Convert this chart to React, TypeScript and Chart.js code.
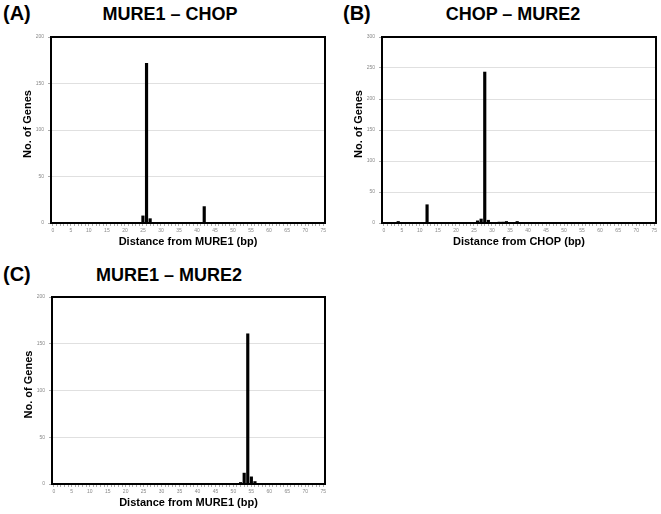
import React, { useEffect, useRef } from "react";
import { Chart, registerables } from "chart.js";

Chart.register(...registerables);

const categories = [
  0, 1, 2, 3, 4, 5, 6, 7, 8, 9, 10, 11, 12, 13, 14, 15, 16, 17, 18, 19,
  20, 21, 22, 23, 24, 25, 26, 27, 28, 29, 30, 31, 32, 33, 34, 35, 36, 37, 38, 39,
  40, 41, 42, 43, 44, 45, 46, 47, 48, 49, 50, 51, 52, 53, 54, 55, 56, 57, 58, 59,
  60, 61, 62, 63, 64, 65, 66, 67, 68, 69, 70, 71, 72, 73, 74, 75,
];
const xTickLabels = [0, 5, 10, 15, 20, 25, 30, 35, 40, 45, 50, 55, 60, 65, 70, 75];

// Panel A: MURE1 – CHOP
const aDistances = [20, 25, 26, 27, 29, 41, 42, 44];
const aCounts = [1, 8, 172, 5, 1, 1, 18, 1];
const aYTicks = [0, 50, 100, 150, 200];

// Panel B: CHOP – MURE2
const bDistances = [4, 12, 17, 19, 20, 21, 26, 27, 28, 29, 32, 33, 34, 37, 38, 40, 61];
const bCounts = [3, 30, 1, 1, 1, 1, 4, 7, 244, 5, 2, 2, 3, 3, 1, 1, 1];
const bYTicks = [0, 50, 100, 150, 200, 250, 300];

// Panel C: MURE1 – MURE2
const cDistances = [43, 45, 48, 49, 52, 53, 54, 55, 56, 57, 60, 61];
const cCounts = [1, 1, 1, 1, 2, 12, 161, 8, 3, 1, 1, 1];
const cYTicks = [0, 50, 100, 150, 200];

const yTitle = "No. of Genes";

const FONT = "'Liberation Sans', Arial, Helvetica, sans-serif";

const boxPlugin = {
  id: "boxBorder",
  afterDraw(chart: any) {
    const { ctx, chartArea } = chart;
    ctx.save();
    ctx.strokeStyle = "#000";
    ctx.lineWidth = 2;
    ctx.strokeRect(
      chartArea.left,
      chartArea.top,
      chartArea.right - chartArea.left,
      chartArea.bottom - chartArea.top
    );
    // y-axis title, slightly above the plot's centre as in the reference
    const y = chart.scales.y;
    ctx.translate(y.left + 18, (chartArea.top + chartArea.bottom) / 2 - 6);
    ctx.rotate(-Math.PI / 2);
    ctx.fillStyle = "#000";
    ctx.font = `bold 11px ${FONT}`;
    ctx.textAlign = "center";
    ctx.textBaseline = "middle";
    ctx.fillText(yTitle, 0, 0);
    ctx.restore();
  },
};

function buildTable(dist: number[], counts: number[]) {
  return categories.map((c) => {
    const i = dist.indexOf(c);
    return i >= 0 ? counts[i] : 0;
  });
}

type PanelProps = {
  left: number;
  top: number;
  width: number;
  height: number;
  dist: number[];
  counts: number[];
  yTicks: number[];
  xTitle: string;
};

function Panel(p: PanelProps) {
  const ref = useRef<HTMLCanvasElement>(null);
  useEffect(() => {
    const ctx = ref.current!;
    const yMax = p.yTicks[p.yTicks.length - 1];
    const chart = new Chart(ctx, {
      type: "bar",
      data: {
        labels: categories.map(String),
        datasets: [
          {
            data: buildTable(p.dist, p.counts),
            backgroundColor: "#000",
            borderWidth: 0,
            barPercentage: 0.88,
            categoryPercentage: 1,
          },
        ],
      },
      options: {
        responsive: false,
        animation: false,
        events: [],
        layout: { padding: { top: 5, right: 5, left: 0, bottom: 0 } },
        plugins: { legend: { display: false }, tooltip: { enabled: false } },
        scales: {
          x: {
            type: "category",
            offset: true,
            afterFit: (s: any) => {
              s.height = 30;
            },
            grid: {
              display: true,
              drawOnChartArea: false,
              drawTicks: true,
              tickLength: 3,
              offset: false,
              color: "#aaa",
              tickColor: "#aaa",
            },
            border: { display: false },
            ticks: {
              autoSkip: false,
              maxRotation: 0,
              minRotation: 0,
              padding: 2,
              color: "#888",
              font: { family: FONT, size: 5 },
              callback: (_v: any, i: number) =>
                xTickLabels.includes(categories[i]) ? String(categories[i]) : "",
            },
            title: {
              display: true,
              text: p.xTitle,
              color: "#000",
              font: { family: FONT, size: 11, weight: "bold" },
              padding: { top: 0, bottom: 4 },
            },
          },
          y: {
            min: 0,
            max: yMax,
            afterFit: (s: any) => {
              s.width = 41;
            },
            afterBuildTicks: (s: any) => {
              s.ticks = p.yTicks.map((v) => ({ value: v }));
            },
            grid: {
              color: (c: any) =>
                c.tick && (c.tick.value === 0 || c.tick.value === yMax) ? "rgba(0,0,0,0)" : "#e0e0e0",
              tickColor: "#aaa",
              tickLength: 3,
              lineWidth: 1,
            },
            border: { display: false },
            ticks: {
              padding: 4,
              color: "#888",
              font: { family: FONT, size: 5 },
            },
            title: { display: false },
          },
        },
      },
      plugins: [boxPlugin],
    } as any);
    return () => chart.destroy();
  }, []);
  return (
    <canvas
      ref={ref}
      width={p.width}
      height={p.height}
      style={{ position: "absolute", left: p.left, top: p.top, width: p.width, height: p.height }}
    />
  );
}

const titleStyle = (cx: number, top: number): React.CSSProperties => ({
  position: "absolute",
  left: cx - 150,
  width: 300,
  top,
  textAlign: "center",
  fontFamily: FONT,
  fontWeight: "bold",
  fontSize: 18,
  lineHeight: "18px",
  color: "#000",
  whiteSpace: "nowrap",
});

const letterStyle = (left: number, top: number): React.CSSProperties => ({
  position: "absolute",
  left,
  top,
  fontFamily: FONT,
  fontWeight: "bold",
  fontSize: 20,
  lineHeight: "20px",
  color: "#000",
});

export default function App() {
  return (
    <div
      style={{
        position: "fixed",
        left: 0,
        top: 0,
        width: 661,
        height: 514,
        overflow: "hidden",
        background: "#fff",
      }}
    >
      <div style={letterStyle(3, 3)}>(A)</div>
      <div style={titleStyle(170, 5)}>MURE1 – CHOP</div>
      <div style={letterStyle(343, 3)}>(B)</div>
      <div style={titleStyle(513, 5)}>CHOP – MURE2</div>
      <div style={letterStyle(3, 264)}>(C)</div>
      <div style={titleStyle(169, 266)}>MURE1 – MURE2</div>

      <Panel left={10} top={30} width={320} height={223} dist={aDistances} counts={aCounts} yTicks={aYTicks} xTitle="Distance from MURE1 (bp)" />
      <Panel left={341} top={30} width={320} height={223} dist={bDistances} counts={bCounts} yTicks={bYTicks} xTitle="Distance from CHOP (bp)" />
      <Panel left={11} top={290} width={319} height={224} dist={cDistances} counts={cCounts} yTicks={cYTicks} xTitle="Distance from MURE1 (bp)" />
    </div>
  );
}
